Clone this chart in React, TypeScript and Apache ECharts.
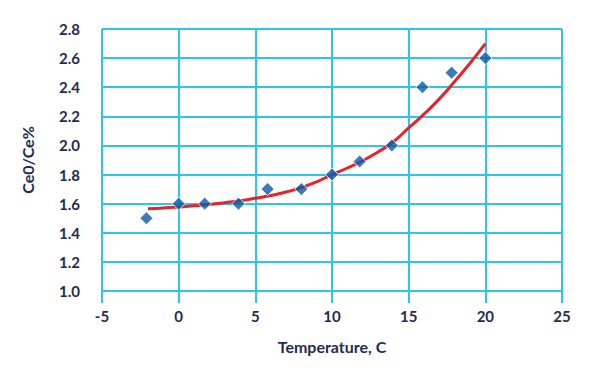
import React, { useEffect, useRef } from "react";
import * as echarts from "echarts";

const pointTemps = [-2.1, 0, 1.7, 3.9, 5.8, 8, 10, 11.8, 13.9, 15.9, 17.8, 20];
const pointRatios = [1.5, 1.6, 1.6, 1.6, 1.7, 1.7, 1.8, 1.89, 2.0, 2.4, 2.5, 2.6];

const curveTemps = [-2, -1, 0, 1, 2, 3, 4, 5, 6, 7, 8, 9, 10, 11, 12, 13, 14, 15, 16, 17, 18, 19, 20];
const curveRatios = [1.565, 1.57, 1.577, 1.585, 1.595, 1.607, 1.62, 1.637, 1.656, 1.68, 1.71, 1.75, 1.8, 1.845, 1.895, 1.955, 2.025, 2.12, 2.215, 2.32, 2.44, 2.565, 2.7];

const xName = "Temperature, C";
const yName = "Ce0/Ce%";

const GRID = "#2cc6e8";
const TEXT = "#1f2b54";
const FONT = "Lato, 'Open Sans', sans-serif";

export default function App() {
  const ref = useRef<HTMLDivElement>(null);
  useEffect(() => {
    if (!ref.current) return;
    const chart = echarts.init(ref.current, undefined, { renderer: "svg" });
    chart.setOption({
      animation: false,
      grid: { left: 102, right: 38, top: 29, bottom: 89 },
      xAxis: {
        type: "value",
        min: -5,
        max: 25,
        interval: 5,
        name: xName,
        nameLocation: "middle",
        nameGap: 47,
        nameTextStyle: { color: TEXT, fontSize: 16, fontWeight: "bold", fontFamily: FONT },
        axisLine: { show: true, lineStyle: { color: GRID, width: 2 } },
        axisTick: { show: true, length: 12, lineStyle: { color: GRID, width: 2 } },
        axisLabel: { color: TEXT, fontSize: 15, fontWeight: "bold", fontFamily: FONT, margin: 17 },
        splitLine: { show: true, lineStyle: { color: GRID, width: 2 } },
      },
      yAxis: {
        type: "value",
        min: 1.0,
        max: 2.8,
        interval: 0.2,
        name: yName,
        nameLocation: "middle",
        nameGap: 67,
        nameTextStyle: { color: TEXT, fontSize: 16, fontWeight: "bold", fontFamily: FONT },
        axisLine: { show: true, lineStyle: { color: GRID, width: 2 } },
        axisTick: { show: true, length: 14, lineStyle: { color: GRID, width: 2 } },
        axisLabel: {
          color: TEXT,
          fontSize: 15,
          fontWeight: "bold",
          fontFamily: FONT,
          margin: 22,
          formatter: (v: number) => v.toFixed(1),
        },
        splitLine: { show: true, lineStyle: { color: GRID, width: 2 } },
      },
      series: [
        {
          type: "line",
          data: curveTemps.map((t, i) => [t, curveRatios[i]]),
          smooth: true,
          showSymbol: false,
          lineStyle: { color: "#e5232a", width: 3 },
          z: 3,
        },
        {
          type: "scatter",
          data: pointTemps.map((t, i) => [t, pointRatios[i]]),
          symbol: "diamond",
          symbolSize: 13,
          itemStyle: { color: "#0d5aa7", borderColor: "#ffffff", borderWidth: 1 },
          z: 4,
        },
      ],
    });
    return () => chart.dispose();
  }, []);
  return <div ref={ref} style={{ width: 600, height: 380, position: "absolute", left: 0, top: 0 }} />;
}
